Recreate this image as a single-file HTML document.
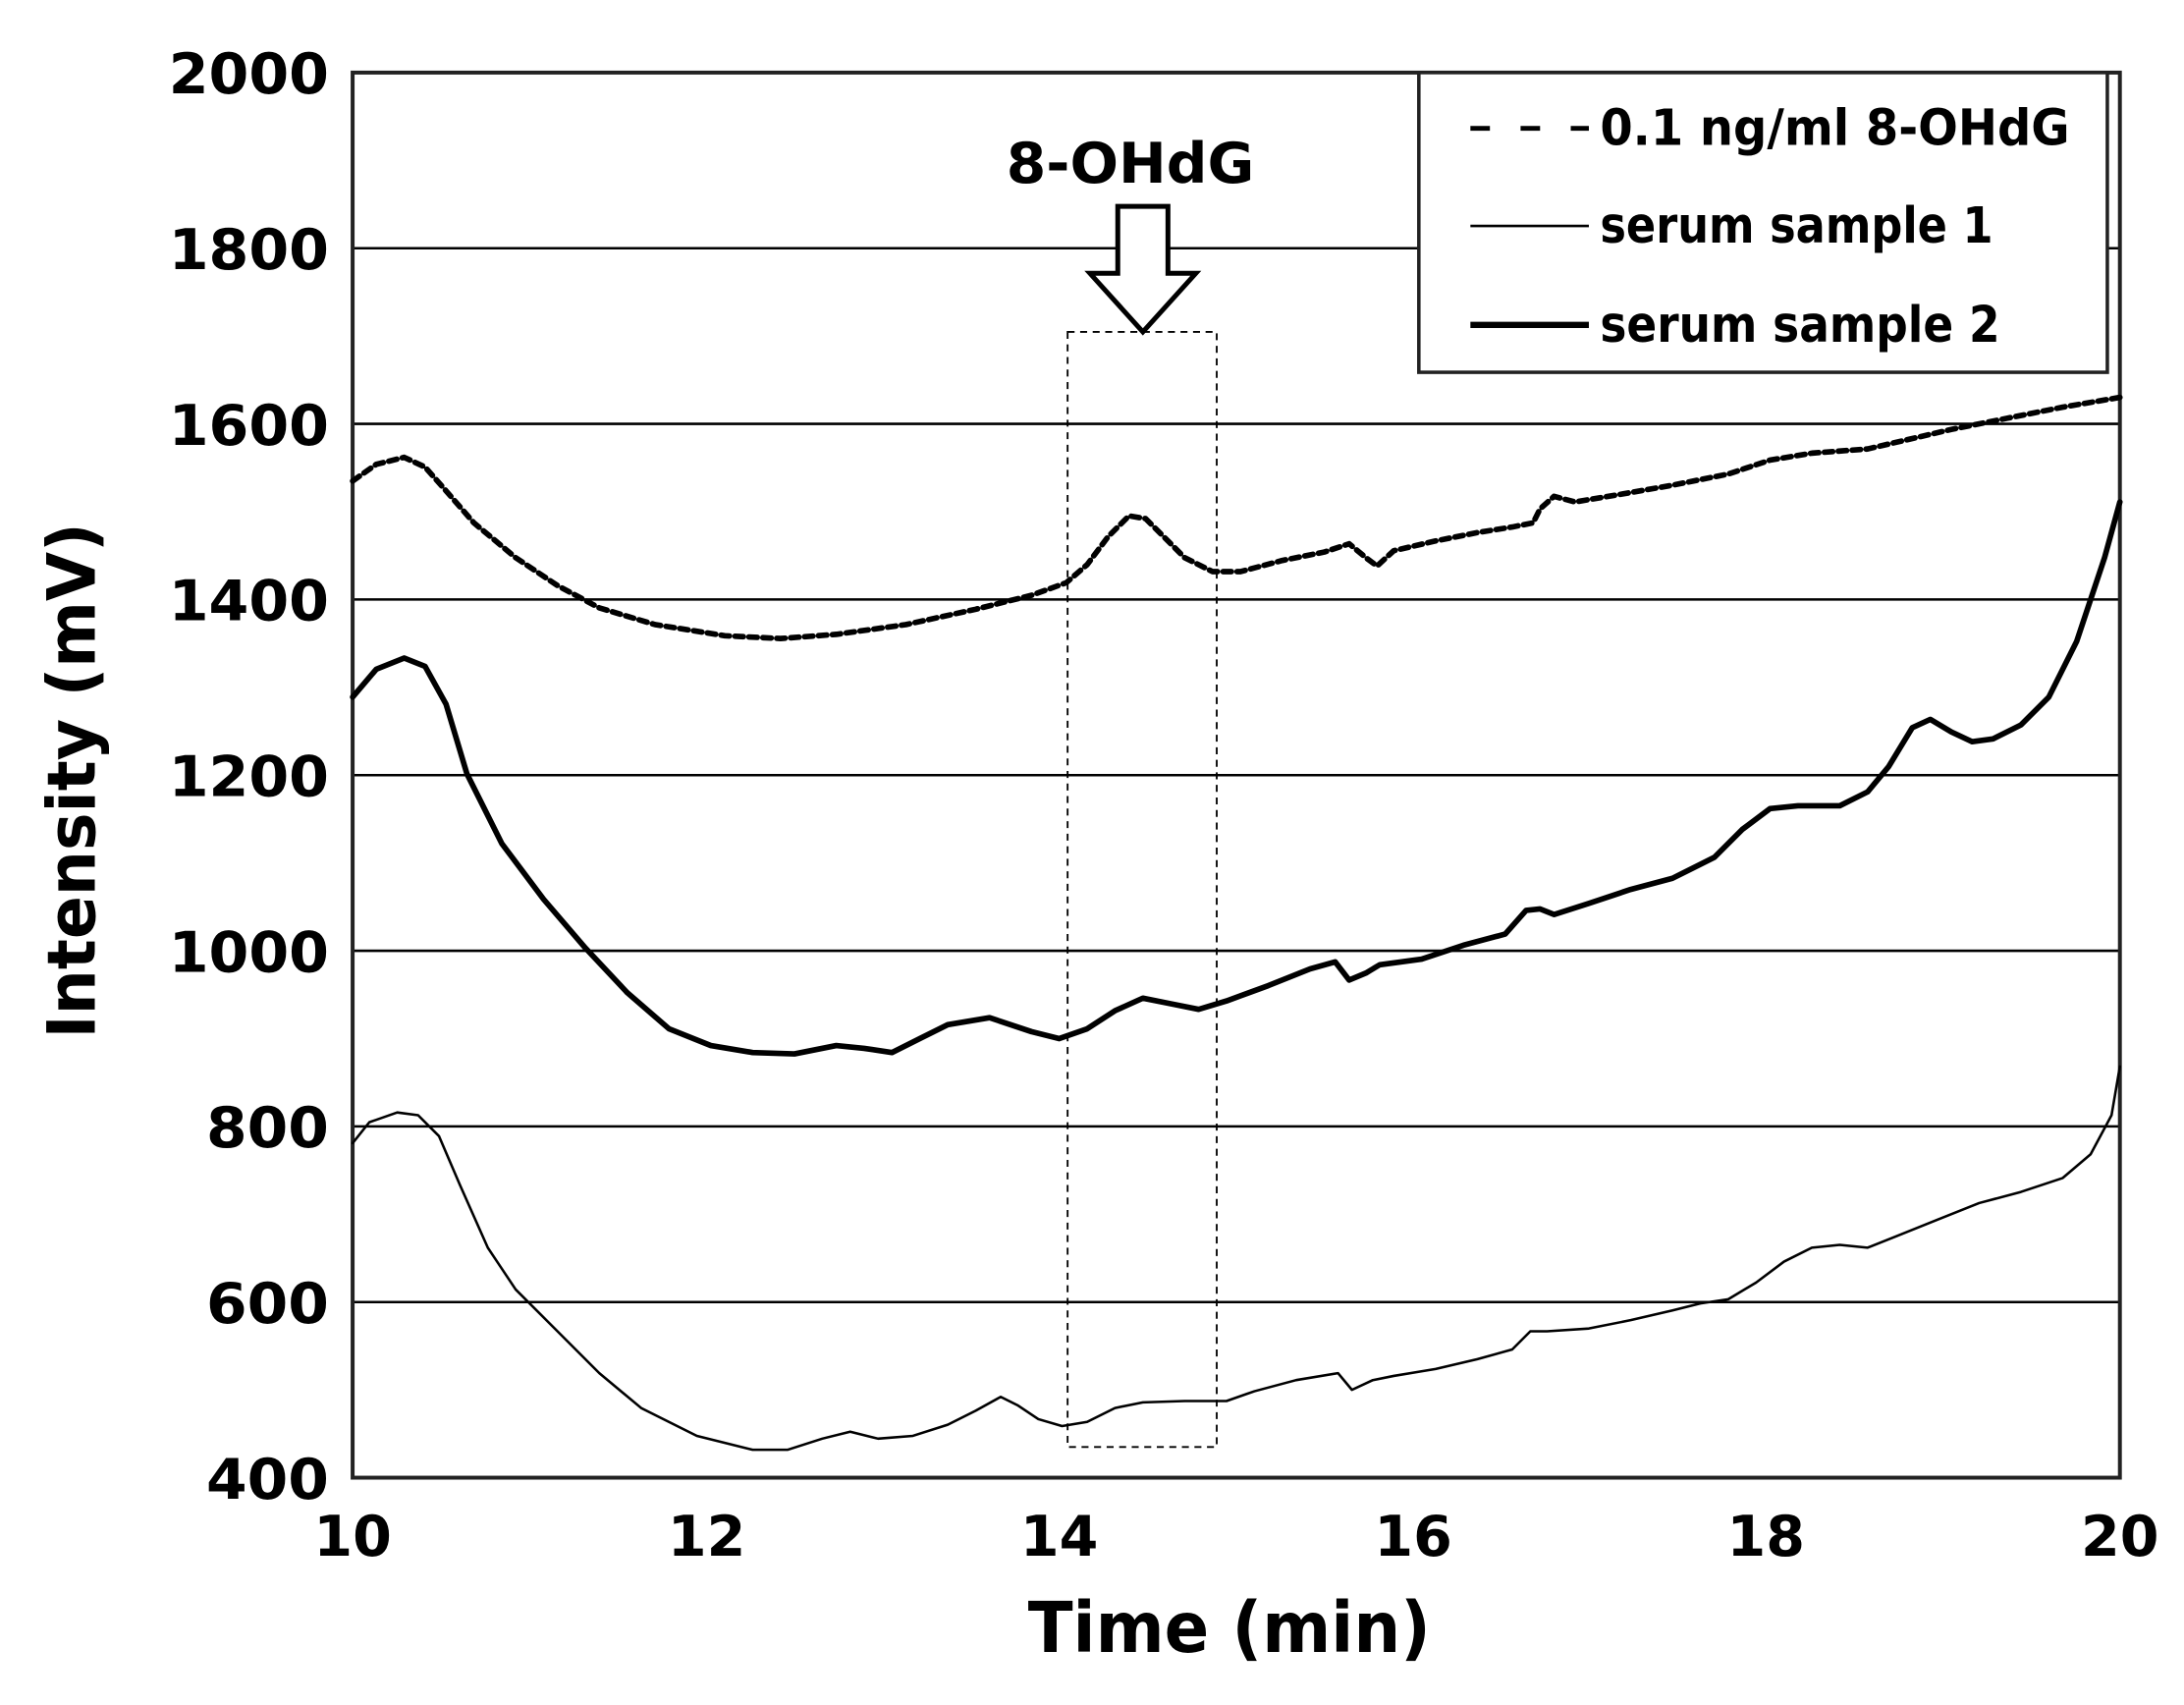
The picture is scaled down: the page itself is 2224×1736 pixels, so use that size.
<!DOCTYPE html>
<html><head><meta charset="utf-8"><style>html,body{margin:0;padding:0;background:#fff}svg{display:block}</style></head>
<body>
<svg width="2224" height="1736" viewBox="0 0 1567 1223" xmlns="http://www.w3.org/2000/svg" font-family="'DejaVu Sans','Liberation Sans',sans-serif" font-weight="bold">
<rect width="1567" height="1223" fill="#fff"/>
<g stroke="#000" stroke-width="1.8">
<line x1="253" y1="178" x2="1521" y2="178"/>
<line x1="253" y1="304" x2="1521" y2="304"/>
<line x1="253" y1="430" x2="1521" y2="430"/>
<line x1="253" y1="556" x2="1521" y2="556"/>
<line x1="253" y1="682" x2="1521" y2="682"/>
<line x1="253" y1="808" x2="1521" y2="808"/>
<line x1="253" y1="934" x2="1521" y2="934"/>
</g>
<rect x="253" y="52" width="1268" height="1008" fill="none" stroke="#222" stroke-width="2.8"/>
<g font-size="40" text-anchor="end" fill="#000" lengthAdjust="spacingAndGlyphs">
<text x="236" y="67" textLength="115" lengthAdjust="spacingAndGlyphs">2000</text>
<text x="236" y="193" textLength="115" lengthAdjust="spacingAndGlyphs">1800</text>
<text x="236" y="319" textLength="115" lengthAdjust="spacingAndGlyphs">1600</text>
<text x="236" y="445" textLength="115" lengthAdjust="spacingAndGlyphs">1400</text>
<text x="236" y="571" textLength="115" lengthAdjust="spacingAndGlyphs">1200</text>
<text x="236" y="697" textLength="115" lengthAdjust="spacingAndGlyphs">1000</text>
<text x="236" y="823" textLength="88" lengthAdjust="spacingAndGlyphs">800</text>
<text x="236" y="949" textLength="88" lengthAdjust="spacingAndGlyphs">600</text>
<text x="236" y="1075" textLength="88" lengthAdjust="spacingAndGlyphs">400</text>
</g>
<g font-size="40" text-anchor="middle" fill="#000">
<text x="253" y="1116" textLength="56" lengthAdjust="spacingAndGlyphs">10</text>
<text x="507" y="1116" textLength="56" lengthAdjust="spacingAndGlyphs">12</text>
<text x="760" y="1116" textLength="56" lengthAdjust="spacingAndGlyphs">14</text>
<text x="1014" y="1116" textLength="56" lengthAdjust="spacingAndGlyphs">16</text>
<text x="1267" y="1116" textLength="56" lengthAdjust="spacingAndGlyphs">18</text>
<text x="1521" y="1116" textLength="56" lengthAdjust="spacingAndGlyphs">20</text>
</g>
<text x="882" y="1185" font-size="50" text-anchor="middle" textLength="289" lengthAdjust="spacingAndGlyphs">Time (min)</text>
<text transform="translate(68,560) rotate(-90)" font-size="48" text-anchor="middle" textLength="370" lengthAdjust="spacingAndGlyphs">Intensity (mV)</text>
<rect x="766" y="238" width="107" height="800" fill="none" stroke="#000" stroke-width="1.3" stroke-dasharray="5,4"/>
<path d="M802,148 L838,148 L838,196 L858,196 L820,238 L782,196 L802,196 Z" fill="#fff" stroke="#000" stroke-width="3.5"/>
<text x="811" y="131" font-size="40" text-anchor="middle" textLength="178" lengthAdjust="spacingAndGlyphs">8-OHdG</text>
<rect x="1018" y="52" width="494" height="215" fill="#fff" stroke="#222" stroke-width="2.5"/>
<line x1="1055" y1="92" x2="1140" y2="92" stroke="#000" stroke-width="3.5" stroke-dasharray="14,22"/>
<line x1="1055" y1="162" x2="1140" y2="162" stroke="#000" stroke-width="1.8"/>
<line x1="1055" y1="233" x2="1140" y2="233" stroke="#000" stroke-width="4.5"/>
<g font-size="36" fill="#000">
<text x="1148" y="104" textLength="337" lengthAdjust="spacingAndGlyphs">0.1 ng/ml 8-OHdG</text>
<text x="1148" y="174" textLength="282" lengthAdjust="spacingAndGlyphs">serum sample 1</text>
<text x="1148" y="245" textLength="287" lengthAdjust="spacingAndGlyphs">serum sample 2</text>
</g>
<g fill="none" stroke="#000" stroke-linejoin="round" stroke-linecap="round">
<polyline stroke-width="4" stroke-dasharray="6,4" points="253,345 270,333 290,328 305,335 320,352 340,375 370,400 400,420 430,436 470,448 520,456 560,458 600,455 650,448 700,437 740,427 765,418 780,405 795,385 810,370 822,372 835,385 850,400 870,410 890,410 920,402 950,396 968,390 980,400 988,406 1000,395 1030,388 1060,382 1085,378 1100,375 1105,365 1115,356 1130,360 1160,355 1200,348 1240,340 1270,330 1300,325 1340,322 1370,315 1400,308 1440,300 1480,292 1521,285"/>
<polyline stroke-width="4" points="253,500 270,480 290,472 305,478 320,505 335,555 360,605 390,645 420,680 450,712 480,738 510,750 540,755 570,756 600,750 620,752 640,755 660,745 680,735 710,730 740,740 760,745 780,738 800,725 820,716 840,720 860,724 880,718 910,707 940,695 958,690 968,703 980,698 990,692 1020,688 1050,678 1080,670 1095,653 1105,652 1115,656 1140,648 1170,638 1200,630 1230,615 1250,595 1270,580 1290,578 1320,578 1340,568 1355,550 1372,522 1385,516 1400,525 1415,532 1430,530 1450,520 1470,500 1490,460 1510,400 1521,360"/>
<polyline stroke-width="1.8" points="253,820 265,805 285,798 300,800 315,815 330,850 350,895 370,925 400,955 430,985 460,1010 500,1030 540,1040 565,1040 590,1032 610,1027 630,1032 655,1030 680,1022 700,1012 718,1002 730,1008 745,1018 762,1023 780,1020 800,1010 820,1006 850,1005 880,1005 900,998 930,990 960,985 970,997 985,990 1000,987 1030,982 1060,975 1085,968 1098,955 1110,955 1140,953 1170,947 1200,940 1220,935 1240,932 1260,920 1280,905 1300,895 1320,893 1340,895 1360,887 1390,875 1420,863 1450,855 1480,845 1500,828 1515,800 1521,765"/>
</g>
</svg>
</body></html>
